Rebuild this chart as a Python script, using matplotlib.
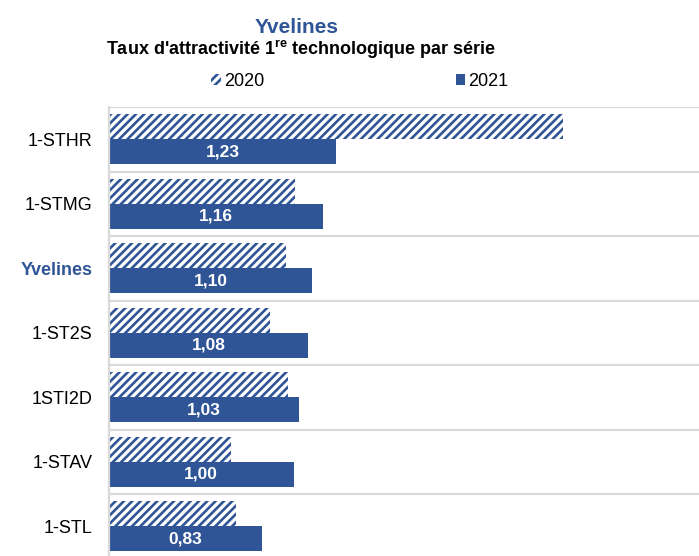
import numpy as np
import matplotlib
matplotlib.use("Agg")
import matplotlib.pyplot as plt
from matplotlib.patches import Patch

plt.rcParams['font.family'] = ['Liberation Sans', 'DejaVu Sans']
plt.rcParams['mathtext.fontset'] = 'custom'
plt.rcParams['mathtext.rm'] = 'Liberation Sans'
plt.rcParams['mathtext.bf'] = 'Liberation Sans:bold'
plt.rcParams['hatch.linewidth'] = 1.9

# taux d'attractivite par serie
series = ["1-STHR", "1-STMG", "Yvelines", "1-ST2S", "1STI2D", "1-STAV", "1-STL"]
taux_2020 = [2.46, 1.01, 0.96, 0.87, 0.97, 0.66, 0.69]
taux_2021 = [1.23, 1.16, 1.10, 1.08, 1.03, 1.00, 0.83]

blue = '#2F5597'
grid_col = '#D9D9D9'

fig = plt.figure(figsize=(6.99, 5.56), dpi=100)
ax = fig.add_axes([109/699, 1 - 558.5/556, 1 - 109/699, 451.5/556])

y = np.arange(len(series))
h = 0.39
ax.barh(y - 0.195, taux_2020, height=h, color='white', edgecolor=blue,
        linewidth=0, hatch='////')
bars = ax.barh(y + 0.195, taux_2021, height=h, color=blue, linewidth=0)

for b, v in zip(bars, taux_2021):
    ax.text(v / 2, b.get_y() + b.get_height() / 2, f"{v:.2f}".replace('.', ','),
            ha='center', va='center', color='white', fontsize=12.5,
            fontweight='bold')

ax.set_ylim(len(series) - 0.5, -0.5)
ax.set_xlim(0, 590 / 184.6)

# separators between the series
for k in range(len(series) + 1):
    ax.axhline(k - 0.5, color=grid_col, lw=1.6, zorder=0)

for s in ['top', 'right', 'bottom']:
    ax.spines[s].set_visible(False)
ax.spines['left'].set_color(grid_col)
ax.spines['left'].set_linewidth(1.6)
ax.set_xticks([])
ax.set_yticks(y)
ax.set_yticklabels(series, fontsize=13)
ax.tick_params(axis='y', length=0, pad=12)
for lab in ax.get_yticklabels():
    if lab.get_text() == "Yvelines":
        lab.set_color(blue)
        lab.set_fontweight('bold')

fig.text(297/699, 1 - 33/556, "Yvelines", ha='center', va='baseline',
         color=blue, fontsize=15, fontweight='bold')
fig.text(301/699, 1 - 55/556,
         r"Taux d'attractivité 1$^{\mathbf{re}}$ technologique par série",
         ha='center', va='baseline', fontsize=13, fontweight='bold')

handles = [Patch(facecolor='white', edgecolor=blue, linewidth=0, hatch='////'),
           Patch(facecolor=blue, linewidth=0)]
fig.legend(handles, ["2020", "2021"], loc='center', ncol=2,
           bbox_to_anchor=(360/699, 1 - 81/556), frameon=False, fontsize=13,
           handlelength=0.5, handleheight=0.55, handletextpad=0.2,
           columnspacing=10.6, borderpad=0, borderaxespad=0)

fig.savefig("out.png", dpi=100)
